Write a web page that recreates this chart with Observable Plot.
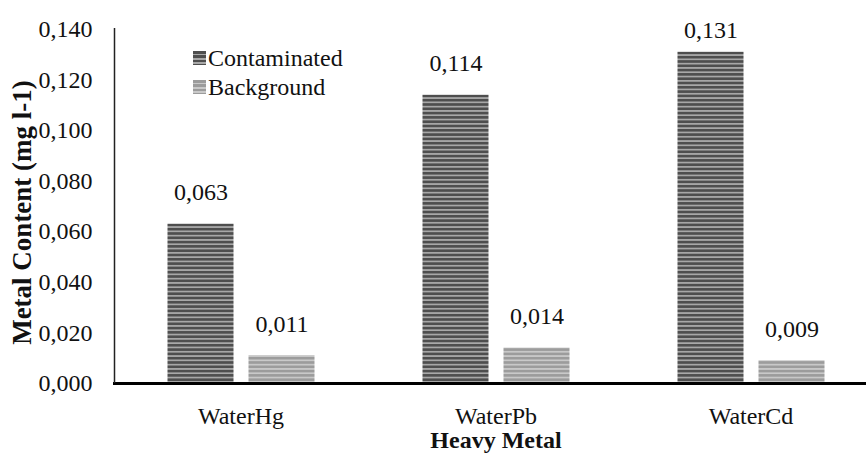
<!DOCTYPE html>
<html><head><meta charset="utf-8">
<script src="https://cdn.jsdelivr.net/npm/d3@7"></script>
<script src="https://cdn.jsdelivr.net/npm/@observablehq/plot@0.6"></script>
<style>
body{margin:0;background:#fff;}
#wrap{position:relative;width:866px;height:454px;font-family:'Liberation Serif','Times New Roman',serif;}
#wrap svg text{font-family:'Liberation Serif','Times New Roman',serif;}
.leg{position:absolute;left:193px;font-size:24px;color:#111;display:flex;align-items:center;line-height:1;}
.sw{width:13px;height:14px;margin-right:2px;}
</style>
</head><body>
<div id="wrap"></div>
<script>
const metals = ["WaterHg", "WaterPb", "WaterCd"];
const seriesNames = ["Contaminated", "Background"];
const contaminated = [0.063, 0.114, 0.131];
const background = [0.011, 0.014, 0.009];
const yTicks = [0, 0.02, 0.04, 0.06, 0.08, 0.1, 0.12, 0.14];
const yLabel = "Metal Content (mg l-1)";
const xLabel = "Heavy Metal";

const data = metals.flatMap((m, i) => [
  {metal: m, series: seriesNames[0], value: contaminated[i]},
  {metal: m, series: seriesNames[1], value: background[i]}
]);
const fmt = v => d3.format(".3f")(v).replace(".", ",");
const cData = data.filter(d => d.series === seriesNames[0]);
const bData = data.filter(d => d.series === seriesNames[1]);
const yMax = 0.14;
// labels that would leave the plot area are pushed down (as the spreadsheet does)
const labelY = d => Math.min(d.value, yMax - 0.013);

const chart = Plot.plot({
  width: 866,
  height: 454,
  marginLeft: 113,
  marginRight: 0,
  marginTop: 29,
  marginBottom: 71,
  style: {fontFamily: "'Liberation Serif', 'Times New Roman', serif", fontSize: "24px", color: "#111", background: "#fff"},
  x: {domain: metals, range: [112.5, 877.5], padding: 0, label: null},
  y: {domain: [0, yMax], ticks: yTicks, tickFormat: fmt, label: null},
  marks: [
    Plot.axisY({ticks: yTicks, tickFormat: fmt, tickSize: 0, tickPadding: 21, label: null, fontSize: 24}),
    Plot.axisX({tickSize: 0, tickPadding: 23, label: null, fontSize: 24}),
    Plot.barY(cData, {x: "metal", y: "value", fill: "url(#pc)", insetLeft: 54.5, insetRight: 134.5}),
    Plot.barY(bData, {x: "metal", y: "value", fill: "url(#pb)", insetLeft: 135.5, insetRight: 53.5}),
    Plot.text(cData, {x: "metal", y: labelY, text: d => fmt(d.value), dx: -40, dy: -24, lineAnchor: "bottom", fontSize: 24, fill: "#111"}),
    Plot.text(bData, {x: "metal", y: labelY, text: d => fmt(d.value), dx: 41, dy: -24, lineAnchor: "bottom", fontSize: 24, fill: "#111"}),
    Plot.ruleY([0], {stroke: "#000", strokeWidth: 3}),
    Plot.text([yLabel], {frameAnchor: "left", textAnchor: "middle", rotate: -90, dx: -91, dy: 6, fontWeight: "bold", fontSize: 27, fill: "#111"}),
    Plot.text([xLabel], {frameAnchor: "bottom", textAnchor: "middle", dx: 6, dy: 64, fontWeight: "bold", fontSize: 24, fill: "#111"})
  ]
});

const svg = d3.select(chart);
const defs = svg.insert("defs", ":first-child");
function stripes(id, c1, c2) {
  const p = defs.append("pattern").attr("id", id).attr("patternUnits", "userSpaceOnUse").attr("width", 8).attr("height", 4.3);
  p.append("rect").attr("width", 8).attr("height", 4.3).attr("fill", c1);
  p.append("rect").attr("y", 2.6).attr("width", 8).attr("height", 1.7).attr("fill", c2);
}
stripes("pc", "#4e4e4e", "#a8a8a8");
stripes("pb", "#9c9c9c", "#c9c9c9");

// y axis line along the frame's left edge
const yScale = chart.scale("y");
svg.append("line")
  .attr("x1", 114.5).attr("x2", 114.5)
  .attr("y1", yScale.apply(yMax) - 1).attr("y2", yScale.apply(0))
  .attr("stroke", "#222").attr("stroke-width", 1.5);

const wrap = document.getElementById("wrap");
wrap.appendChild(chart);
const legendItems = [
  {name: seriesNames[0], top: 46, bg: "repeating-linear-gradient(#4e4e4e 0 2.6px,#a8a8a8 2.6px 4.3px)"},
  {name: seriesNames[1], top: 75, bg: "repeating-linear-gradient(#9c9c9c 0 2.6px,#c9c9c9 2.6px 4.3px)"}
];
for (const it of legendItems) {
  const d = document.createElement("div");
  d.className = "leg";
  d.style.top = it.top + "px";
  const sw = document.createElement("span");
  sw.className = "sw";
  sw.style.background = it.bg;
  d.appendChild(sw);
  d.appendChild(document.createTextNode(it.name));
  wrap.appendChild(d);
}
</script>
</body></html>
